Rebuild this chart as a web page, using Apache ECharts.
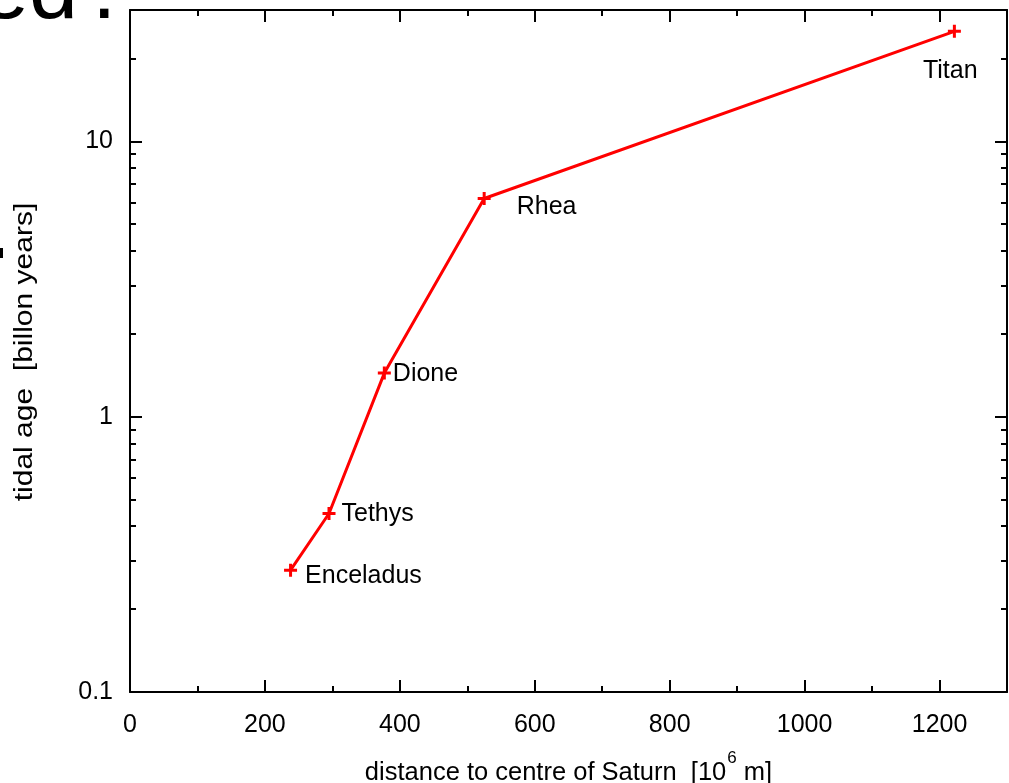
<!DOCTYPE html>
<html>
<head>
<meta charset="utf-8">
<script src="https://cdn.jsdelivr.net/npm/echarts@6/dist/echarts.min.js"></script>
<style>
  html, body { margin: 0; padding: 0; background: #fff; overflow: hidden; }
  #chart { width: 1009px; height: 783px; }
</style>
</head>
<body>
<div id="chart"></div>
<script>
// Saturn's moons: distance from the planet vs. tidal age
const moons = ['Enceladus', 'Tethys', 'Dione', 'Rhea', 'Titan'];
const distance = [238, 295, 377, 525, 1222];      // 10^6 m
const tidalAge = [0.277, 0.445, 1.44, 6.2, 25.1]; // billion years

// Per-moon label nudges (px) relative to the marker
const labelOffsets = [[8, 6], [6, 1], [2, 1], [26, 9], [-38, 40]];

const xRange = [0, 1300];
const yRange = [0.1, 30];
const yMajorTicks = [0.1, 1, 10];
const yMinorTicks = [0.2, 0.3, 0.4, 0.5, 0.6, 0.7, 0.8, 0.9, 2, 3, 4, 5, 6, 7, 8, 9, 20, 30];

const FONT = '"Liberation Sans", Arial, Helvetica, sans-serif';
const INK = '#000';
const RED = '#ff0000';

// plus-shaped marker
const plusPath = 'path://M5,0h3v5h5v3h-5v5h-3v-5h-5v-3h5z';

const seriesData = moons.map((name, i) => ({
  name: name,
  value: [distance[i], tidalAge[i]],
  label: { offset: labelOffsets[i] }
}));

function xAxisDef(position, interval, tickLen, withLine, withLabels) {
  return {
    type: 'value',
    position: position,
    min: xRange[0],
    max: xRange[1],
    interval: interval,
    axisLine: { show: withLine, onZero: false, lineStyle: { color: INK, width: 2 } },
    axisTick: { show: true, inside: true, length: tickLen, lineStyle: { color: INK, width: 2 } },
    axisLabel: {
      show: withLabels,
      showMaxLabel: false,
      margin: 21,
      color: INK,
      fontFamily: FONT,
      fontSize: 25,
      formatter: v => String(v)
    },
    splitLine: { show: false }
  };
}

function yAxisDef(position, ticks, tickLen, withLine, withLabels) {
  return {
    type: 'log',
    logBase: 10,
    position: position,
    min: yRange[0],
    max: yRange[1],
    axisLine: { show: withLine, onZero: false, lineStyle: { color: INK, width: 2 } },
    axisTick: { show: true, inside: true, length: tickLen, customValues: ticks, lineStyle: { color: INK, width: 2 } },
    axisLabel: {
      show: withLabels,
      customValues: yMajorTicks,
      margin: 17,
      color: INK,
      fontFamily: FONT,
      fontSize: 25,
      formatter: v => String(+v.toPrecision(3))
    },
    splitLine: { show: false },
    minorTick: { show: false }
  };
}

const xName = {
  name: '{a|distance to centre of Saturn  [10}{s|6}{a| m]}',
  nameLocation: 'middle',
  nameGap: 58,
  nameMoveOverlap: false,
  nameTextStyle: {
    rich: {
      a: { fontFamily: FONT, fontSize: 25.5, color: INK },
      s: { fontFamily: FONT, fontSize: 17, color: INK, padding: [0, 0, 28, 1] }
    }
  }
};

const chart = echarts.init(document.getElementById('chart'), null, { renderer: 'canvas' });

chart.setOption({
  backgroundColor: '#fff',
  animation: false,
  grid: { left: 130, right: 2, top: 10, bottom: 91, containLabel: false, outerBoundsMode: 'none' },
  xAxis: [
    Object.assign(xAxisDef('bottom', 200, 12, true, true), xName),
    xAxisDef('bottom', 100, 6, false, false),
    xAxisDef('top', 200, 12, true, false),
    xAxisDef('top', 100, 6, false, false)
  ],
  yAxis: [
    yAxisDef('left', yMajorTicks, 12, true, true),
    yAxisDef('left', yMinorTicks, 6, false, false),
    yAxisDef('right', yMajorTicks, 12, true, false),
    yAxisDef('right', yMinorTicks, 6, false, false)
  ],
  series: [{
    type: 'line',
    xAxisIndex: 0,
    yAxisIndex: 0,
    data: seriesData,
    lineStyle: { color: RED, width: 3 },
    itemStyle: { color: RED },
    symbol: plusPath,
    symbolSize: 13,
    showAllSymbol: true,
    label: {
      show: true,
      position: 'right',
      distance: 0,
      formatter: '{b}',
      color: INK,
      fontFamily: FONT,
      fontSize: 25
    },
    emphasis: { disabled: true }
  }],
  graphic: [
    {
      type: 'text',
      x: 25,
      y: 352,
      rotation: Math.PI / 2,
      scaleX: 1.2,
      style: {
        text: 'tidal age  [billon years]',
        fontFamily: FONT,
        fontSize: 25,
        fill: INK,
        align: 'center',
        verticalAlign: 'middle'
      }
    },
    {
      type: 'text',
      x: 78,
      y: -6,
      style: { text: 'ed', fontFamily: FONT, fontSize: 88, fill: INK, align: 'right', verticalAlign: 'middle' }
    },
    {
      type: 'text',
      x: 92,
      y: -6,
      style: { text: '.', fontFamily: FONT, fontSize: 88, fill: INK, align: 'left', verticalAlign: 'middle' }
    },
    {
      type: 'rect',
      shape: { x: 0, y: 248, width: 3, height: 10 },
      style: { fill: INK }
    }
  ]
});
</script>
</body>
</html>
